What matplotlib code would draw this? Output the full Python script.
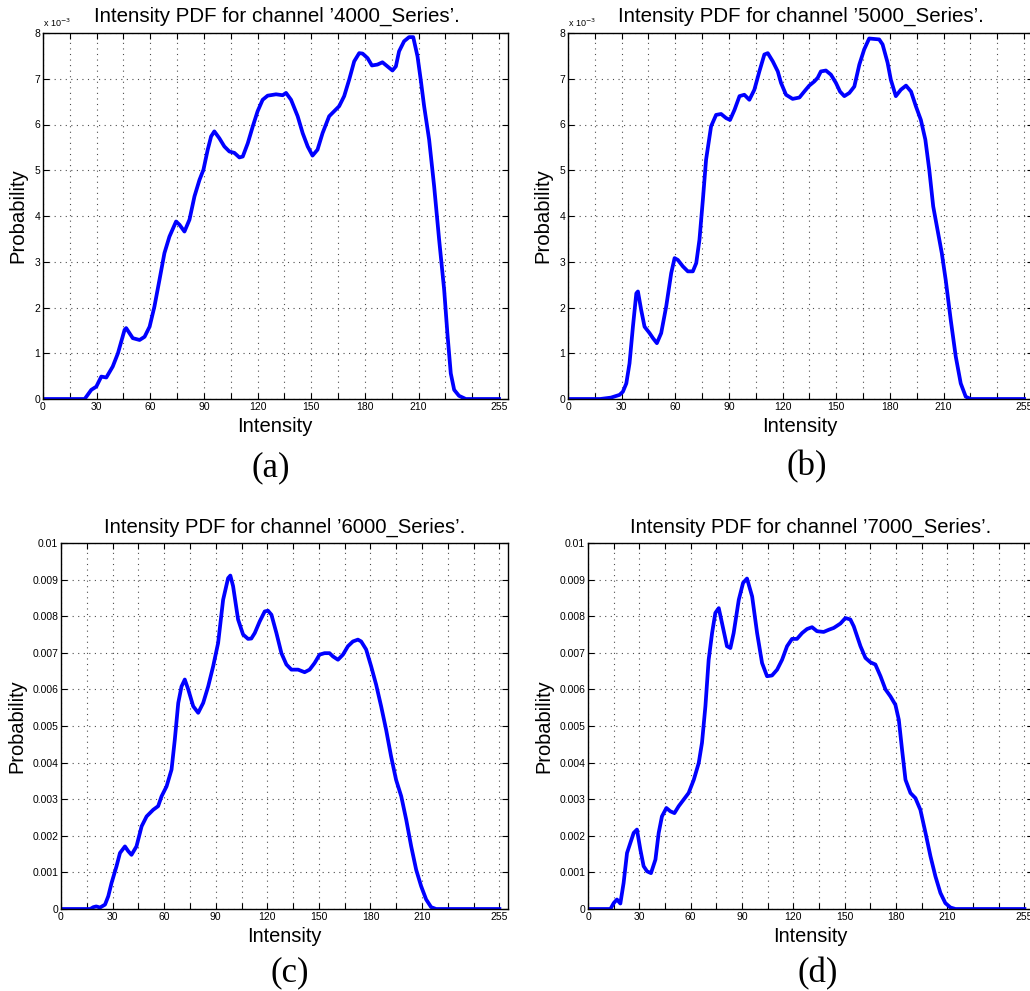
import matplotlib
matplotlib.use('Agg')
import matplotlib.pyplot as plt
from matplotlib.ticker import FuncFormatter

W, H = 1030, 991

# Courbes (intensité, probabilité en unités de 1e-3)
x_a = [0, 20, 23.3, 27, 29.8, 32.6, 35.4, 39, 41.9, 45.6, 46.5, 50.2, 54, 56.8, 59.6, 62.3, 65.1, 67.9,
       70.7, 74.4, 76.3, 79.1, 81.9, 84.7, 87.5, 89.7, 92.1, 94, 95.8, 98.6, 101.4, 104.2, 107, 109.8,
       111.7, 114.5, 117.3, 120, 122.8, 125.6, 130.3, 134, 135.9, 138.7, 142.4, 145.2, 148, 150.7,
       153.5, 156.3, 160, 162.8, 165.6, 168.4, 171.2, 174, 176.8, 178.7, 181.5, 183.9, 187, 189.8,
       192.6, 195.4, 197.3, 199.1, 201.9, 204.7, 207, 209.4, 211.2, 213.1, 215.9, 218.7, 221.5,
       224.3, 226.1, 228, 229.9, 232.6, 236.4, 255]
y_a = [0, 0, 0, 0.2, 0.27, 0.49, 0.47, 0.71, 1.0, 1.51, 1.55, 1.33, 1.29, 1.36, 1.58, 2.02, 2.6, 3.19,
       3.55, 3.88, 3.81, 3.66, 3.92, 4.43, 4.79, 5.01, 5.45, 5.74, 5.85, 5.70, 5.52, 5.41, 5.38, 5.28,
       5.30, 5.59, 5.96, 6.29, 6.54, 6.63, 6.66, 6.64, 6.69, 6.54, 6.18, 5.81, 5.52, 5.32,
       5.45, 5.81, 6.18, 6.29, 6.40, 6.62, 6.98, 7.38, 7.56, 7.55, 7.45, 7.29, 7.31, 7.36,
       7.27, 7.18, 7.27, 7.60, 7.82, 7.91, 7.91, 7.49, 6.98, 6.40, 5.67, 4.65, 3.48,
       2.39, 1.44, 0.56, 0.20, 0.07, 0, 0]

x_b = [0, 18, 24, 28.8, 30.7, 32.6, 34.4, 36.3, 38.2, 39.1, 40.9, 42.8, 45.6, 47.5, 49.7, 52.1, 54.9,
       57.7, 59.6, 61.4, 64.2, 67, 69.8, 71.7, 73.5, 75.4, 77.2, 80, 82.8, 85.6, 88.4, 90.6, 93.1,
       95.9, 98.6, 101.4, 104.2, 107, 109.8, 111.7, 114.5, 117.3, 119.1, 121.9, 125.6, 129.4, 132.1,
       134.9, 137.7, 139.6, 141.4, 144.2, 147, 149.8, 152.1, 154.5, 157.3, 160.1, 162.9, 165.6,
       168.4, 171.2, 174, 175.9, 178.7, 180.5, 183.3, 186.1, 189, 191.8, 194.5, 197.3, 199.8, 202,
       204.2, 206.6, 209, 211.2, 214, 216.8, 219.6, 222.4, 225.2, 255]
y_b = [0, 0, 0.03, 0.09, 0.16, 0.34, 0.78, 1.58, 2.31, 2.35, 1.95, 1.58, 1.44, 1.33, 1.22, 1.44, 2.02,
       2.75, 3.08, 3.04, 2.9, 2.79, 2.79, 2.97, 3.48, 4.35, 5.23, 5.96, 6.21, 6.23, 6.14, 6.1, 6.32,
       6.62, 6.65, 6.54, 6.76, 7.16, 7.53, 7.56, 7.38, 7.16, 6.91, 6.65, 6.56, 6.59, 6.72,
       6.85, 6.94, 7.02, 7.16, 7.18, 7.09, 6.91, 6.72, 6.62, 6.69, 6.83, 7.31, 7.64,
       7.88, 7.87, 7.86, 7.75, 7.35, 6.98, 6.62, 6.76, 6.85, 6.72, 6.40, 6.1, 5.67, 5.01,
       4.21, 3.7, 3.19, 2.6, 1.73, 0.93, 0.34, 0.05, 0, 0]

x_c = [0, 17, 18.8, 20.5, 22.7, 25.6, 27.5, 29.4, 32.3, 34.3, 37.2, 39.1, 41, 43.9, 46.9, 49.8, 53.6,
       56.5, 58.5, 61.4, 64.3, 66.2, 68.2, 70.1, 72, 74, 76.9, 79.8, 82.7, 85.6, 88.5, 91.4, 94.3,
       97.2, 98.5, 100.1, 103, 105.9, 108.8, 110.7, 112.7, 115.6, 118.5, 120.4, 122.4, 125.3, 128.2,
       131.1, 134, 137.9, 141.7, 144.6, 147.5, 150.4, 153.3, 156.2, 158.2, 161.1, 164, 166.9, 169.8,
       172.7, 174.6, 177.5, 180.4, 183.3, 186.2, 189.1, 192, 194.9, 197.9, 200.8, 203.7, 206.6,
       209.5, 212.4, 215.3, 218.2, 255]
y_c = [0, 0, 0.05, 0.07, 0.04, 0.12, 0.35, 0.71, 1.17, 1.53, 1.71, 1.58, 1.48, 1.71, 2.26, 2.53, 2.71,
       2.81, 3.08, 3.35, 3.81, 4.63, 5.63, 6.08, 6.27, 6.0, 5.54, 5.36, 5.63, 6.08, 6.63, 7.27, 8.45,
       9.04, 9.11, 8.82, 7.91, 7.50, 7.38, 7.39, 7.54, 7.86, 8.13, 8.15, 8.04, 7.54, 6.99,
       6.68, 6.54, 6.54, 6.47, 6.54, 6.72, 6.95, 6.99, 6.99, 6.9, 6.81, 6.95, 7.18, 7.31,
       7.36, 7.31, 7.09, 6.63, 6.13, 5.54, 4.90, 4.17, 3.53, 3.08, 2.44, 1.71, 1.07,
       0.62, 0.26, 0.05, 0, 0]

x_d = [0, 13.1, 15, 16.9, 18.9, 20.8, 22.8, 24.7, 26.7, 28.6, 30.6, 32.5, 34.5, 36.8, 39.4, 41.3, 43.2,
       45.8, 48.1, 50.5, 53, 55.9, 58.8, 61.8, 64.7, 66.6, 68.6, 70.5, 72.5, 74.4, 76.4, 78.3, 81.2,
       83.2, 85.1, 88.1, 90.6, 92.9, 95.9, 98.8, 101.7, 104.6, 107.5, 110.5, 113.4, 116.3, 119.2,
       122.1, 125.1, 128, 130.9, 133.8, 137.7, 140.7, 143.6, 147.5, 150.4, 153.3, 155.3, 159.2,
       162.1, 165, 167.9, 170.9, 173.8, 176.7, 179.6, 181.6, 183.5, 185.5, 188.4, 191.3, 194.2,
       197.2, 200.1, 203, 205.9, 208.8, 211.8, 214.7, 255]
y_d = [0, 0, 0.16, 0.26, 0.15, 0.71, 1.53, 1.80, 2.08, 2.17, 1.62, 1.17, 1.03, 0.98, 1.35, 2.08, 2.53,
       2.76, 2.67, 2.62, 2.81, 2.99, 3.17, 3.53, 3.99, 4.54, 5.54, 6.81, 7.54, 8.09, 8.22, 7.81, 7.18,
       7.13, 7.54, 8.45, 8.91, 9.03, 8.54, 7.54, 6.72, 6.36, 6.38, 6.54, 6.81, 7.18, 7.38,
       7.38, 7.54, 7.65, 7.70, 7.59, 7.57, 7.63, 7.68, 7.80, 7.95, 7.91, 7.72, 7.18,
       6.86, 6.74, 6.68, 6.36, 6.0, 5.81, 5.58, 5.17, 4.35, 3.53, 3.17, 3.03, 2.71,
       2.08, 1.44, 0.89, 0.44, 0.16, 0.04, 0, 0]

titres = ["Intensity PDF for channel \u20194000_Series\u2019.",
          "Intensity PDF for channel \u20195000_Series\u2019.",
          "Intensity PDF for channel \u20196000_Series\u2019.",
          "Intensity PDF for channel \u20197000_Series\u2019."]
sous_titres = ['(a)', '(b)', '(c)', '(d)']
x_ticks = [0, 15, 30, 45, 60, 75, 90, 105, 120, 135, 150, 165, 180, 195, 210, 225, 240, 255]
x_ticklabels = ['0', '', '30', '', '60', '', '90', '', '120', '', '150', '', '180', '', '210', '', '', '255']

plt.rcParams['font.family'] = ['Liberation Sans', 'DejaVu Sans']

fig = plt.figure(figsize=(W / 100, H / 100), dpi=100)


def px(x, y):
    return x / W, 1 - y / H


def panneau(gauche, haut, largeur, hauteur):
    return fig.add_axes([gauche / W, 1 - (haut + hauteur) / H, largeur / W, hauteur / H])


def style(ax):
    ax.set_xlim(0, 260)
    ax.set_xticks(x_ticks)
    ax.set_xticklabels(x_ticklabels)
    ax.tick_params(direction='in', top=True, right=True, length=4, width=0.8,
                   labelsize=7.5, pad=2)
    ax.grid(True, linestyle=(0, (1, 4)), color='0.3', linewidth=0.8)
    for s in ax.spines.values():
        s.set_linewidth(1.0)


# panneaux : (gauche, haut, largeur, hauteur) en pixels
geo = [(43, 33, 465, 366), (568, 33, 465, 366), (61, 543, 447, 366), (588, 543, 445, 366)]
donnees = [(x_a, y_a), (x_b, y_b), (x_c, y_c), (x_d, y_d)]
titre_pos = [(277, 16), (801, 16), (285, 527), (811, 527)]
xlab_pos = [(275, 426), (800, 427), (284, 937), (810, 937)]
ylab_x = [18, 543, 17, 544]
sous_pos = [(271, 468), (807, 467), (290, 973), (818, 974)]

for i in range(4):
    g, h, l, ht = geo[i]
    ax = panneau(g, h, l, ht)
    xs, ys = donnees[i]
    if i < 2:
        ax.plot(xs, ys, color='#0000ff', linewidth=2.7)
        ax.set_ylim(0, 8)
        ax.set_yticks(range(0, 9))
        ax.text(0, 1.012, 'x 10$^{-3}$', transform=ax.transAxes, fontsize=6.5,
                ha='left', va='bottom')
    else:
        ax.plot(xs, [v * 1e-3 for v in ys], color='#0000ff', linewidth=2.7)
        ax.set_ylim(0, 0.01)
        ax.set_yticks([k * 0.001 for k in range(11)])
        ax.yaxis.set_major_formatter(FuncFormatter(lambda v, p: f'{round(v, 4):g}'))
    style(ax)

    fs = 14.8 if i < 2 else 14.6
    fig.text(*px(*titre_pos[i]), titres[i], ha='center', va='center', fontsize=fs)
    fig.text(*px(*xlab_pos[i]), 'Intensity', ha='center', va='center', fontsize=fs - 0.2)
    fig.text(*px(ylab_x[i], h + ht / 2), 'Probability', rotation=90,
             ha='center', va='center', fontsize=fs - 0.2)
    fig.text(*px(*sous_pos[i]), sous_titres[i], ha='center', va='center',
             fontsize=25, family='Liberation Serif')

plt.savefig('out.png', dpi=100)
